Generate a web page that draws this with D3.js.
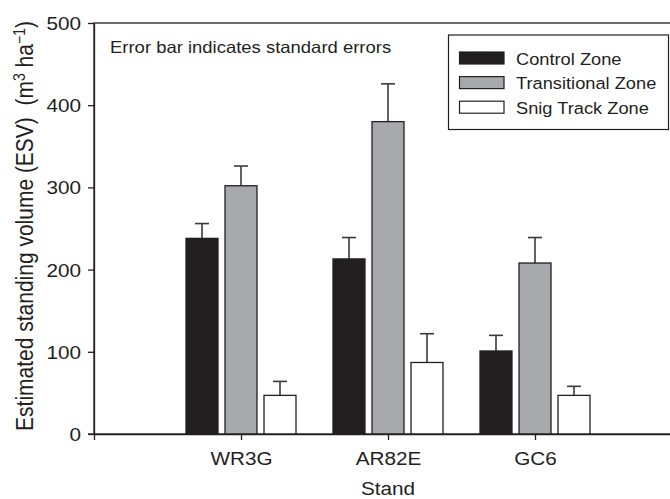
<!DOCTYPE html>
<html>
<head>
<meta charset="utf-8">
<script src="https://cdn.jsdelivr.net/npm/d3@7"></script>
<style>
  html, body { margin: 0; padding: 0; background: #fff; }
  svg { display: block; }
  text { font-family: "Liberation Sans", Arial, Helvetica, sans-serif; fill: #231f20; }
</style>
</head>
<body>
<div id="chart"></div>
<script>
// ---- data ----
const categories = ["WR3G", "AR82E", "GC6"];
const series = ["Control Zone", "Transitional Zone", "Snig Track Zone"];
const controlValues = [238, 213, 101];
const controlSE = [18, 26, 19];
const transitionalValues = [302, 380, 208];
const transitionalSE = [24, 46, 31];
const snigValues = [47, 87, 47];
const snigSE = [17, 35, 11];
const yTicks = [0, 100, 200, 300, 400, 500];
const yLabel = "Estimated standing volume (ESV)";
const xLabel = "Stand";
const note = "Error bar indicates standard errors";

const seriesValues = [controlValues, transitionalValues, snigValues];
const seriesSE = [controlSE, transitionalSE, snigSE];
const fills = ["#231f20", "#a7a9ac", "#ffffff"];

const W = 670, H = 499;
const SX = 1.12; // horizontal glyph stretch seen in reference
const svg = d3.select("#chart").append("svg").attr("width", W).attr("height", H);

const x = d3.scaleLinear().domain([0, 4]).range([94, 682]);
const y = d3.scaleLinear().domain([0, 500]).range([434, 23]);
const step = x(1) - x(0);
const xSub = d3.scaleBand().domain(series)
  .range([-step * 0.398, step * 0.398]).paddingInner(0.18).paddingOuter(0.09);

// frame
svg.append("rect")
  .attr("x", x(0)).attr("y", y(500))
  .attr("width", x(4) - x(0)).attr("height", y(0) - y(500))
  .attr("fill", "none").attr("stroke", "#231f20").attr("stroke-width", 1.3);

// bars
const data = [];
categories.forEach((c, ci) => {
  series.forEach((s, si) => {
    data.push({ c, ci, s, si, v: seriesValues[si][ci], se: seriesSE[si][ci] });
  });
});

const g = svg.append("g");
g.selectAll("line.err").data(data).enter().append("line")
  .attr("class", "err")
  .attr("x1", d => x(d.ci + 1) + xSub(d.s) + xSub.bandwidth() / 2)
  .attr("x2", d => x(d.ci + 1) + xSub(d.s) + xSub.bandwidth() / 2)
  .attr("y1", d => y(d.v)).attr("y2", d => y(d.v + d.se))
  .attr("stroke", "#3a3a3a").attr("stroke-width", 1.6);
g.selectAll("line.cap").data(data).enter().append("line")
  .attr("class", "cap")
  .attr("x1", d => x(d.ci + 1) + xSub(d.s) + xSub.bandwidth() / 2 - 7)
  .attr("x2", d => x(d.ci + 1) + xSub(d.s) + xSub.bandwidth() / 2 + 7)
  .attr("y1", d => y(d.v + d.se)).attr("y2", d => y(d.v + d.se))
  .attr("stroke", "#3a3a3a").attr("stroke-width", 1.6);

g.selectAll("rect.bar").data(data).enter().append("rect")
  .attr("class", "bar")
  .attr("x", d => x(d.ci + 1) + xSub(d.s))
  .attr("width", xSub.bandwidth())
  .attr("y", d => y(d.v))
  .attr("height", d => y(0) - y(d.v))
  .attr("fill", d => fills[d.si])
  .attr("stroke", "#231f20").attr("stroke-width", 1.3);

// y axis
const yAxis = svg.append("g").attr("transform", `translate(${x(0)},0)`)
  .call(d3.axisLeft(y).tickValues(yTicks).tickSize(6).tickSizeOuter(0).tickFormat(d3.format("d")));
yAxis.select(".domain").attr("stroke", "#231f20").attr("stroke-width", 1.3);
yAxis.selectAll(".tick line").attr("stroke", "#231f20").attr("stroke-width", 1.3);
yAxis.selectAll(".tick text")
  .attr("x", 0).attr("dy", "0.35em")
  .attr("transform", `translate(-13,0) scale(${SX},1)`)
  .style("font-size", "18.5px").style("font-family", "'Liberation Sans', Arial, sans-serif")
  .attr("fill", "#231f20");

// x axis
const xAxis = svg.append("g").attr("transform", `translate(0,${y(0)})`)
  .call(d3.axisBottom(x).tickValues([0, 1, 2, 3, 4]).tickSize(6).tickSizeOuter(0)
    .tickFormat(d => (d >= 1 && d <= categories.length) ? categories[d - 1] : ""));
xAxis.select(".domain").attr("stroke", "#231f20").attr("stroke-width", 1.3);
xAxis.selectAll(".tick line").attr("stroke", "#231f20").attr("stroke-width", 1.3);
xAxis.selectAll(".tick text")
  .attr("y", 0).attr("dy", 0)
  .attr("transform", `translate(0,31) scale(${SX},1)`)
  .style("font-size", "18.5px").style("font-family", "'Liberation Sans', Arial, sans-serif")
  .attr("fill", "#231f20");
svg.append("line").attr("x1", x(0) - 6).attr("x2", x(0))
  .attr("y1", y(0)).attr("y2", y(0)).attr("stroke", "#231f20").attr("stroke-width", 1.3);

// x label
svg.append("text")
  .attr("text-anchor", "middle")
  .attr("transform", `translate(${x(2)},494.5) scale(${SX},1)`)
  .style("font-size", "18.5px")
  .text(xLabel);

// y label
const yl = svg.append("text")
  .attr("text-anchor", "middle")
  .attr("transform", `translate(33,226) scale(${SX},1) rotate(-90)`)
  .style("font-size", "21px")
  .style("white-space", "pre");
yl.append("tspan").text(yLabel + "  (m");
yl.append("tspan").attr("baseline-shift", "super").style("font-size", "14px").text("3");
yl.append("tspan").text(" ha");
yl.append("tspan").attr("baseline-shift", "super").style("font-size", "14px").text("\u22121");
yl.append("tspan").text(")");

// note
svg.append("text")
  .attr("transform", `translate(110,53) scale(${SX},1)`)
  .style("font-size", "16.5px")
  .text(note);

// legend
const leg = svg.append("g");
leg.append("rect").attr("x", 448.5).attr("y", 35).attr("width", 220).attr("height", 94.5)
  .attr("fill", "#fff").attr("stroke", "#231f20").attr("stroke-width", 1.2);
series.forEach((s, i) => {
  const cy = 58 + i * 24.6;
  leg.append("rect").attr("x", 459.5).attr("y", cy - 6).attr("width", 44.5).attr("height", 12)
    .attr("fill", fills[i]).attr("stroke", "#231f20").attr("stroke-width", 1.2);
  leg.append("text")
    .attr("transform", `translate(516,${cy + 6.5}) scale(${SX},1)`)
    .style("font-size", "16.3px")
    .text(s);
});
</script>
</body>
</html>
